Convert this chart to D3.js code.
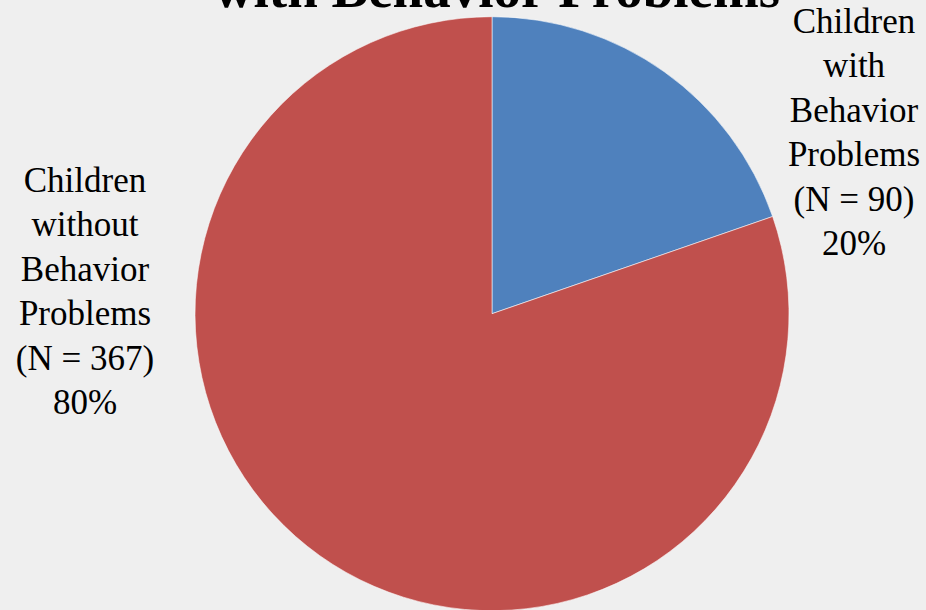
<!DOCTYPE html>
<html>
<head>
<meta charset="utf-8">
<script src="https://cdn.jsdelivr.net/npm/d3@7"></script>
<style>
  html, body { margin: 0; padding: 0; background: #efefef; }
  svg { display: block; }
</style>
</head>
<body>
<svg id="chart" width="926" height="610"></svg>
<script>
const categories = ["Children with Behavior Problems", "Children without Behavior Problems"];
const counts = [90, 367];
const percents = ["20%", "80%"];
const colors = ["#4f81bd", "#c0504d"];
const labelLines = [
  ["Children", "with", "Behavior", "Problems", "(N = 90)", "20%"],
  ["Children", "without", "Behavior", "Problems", "(N = 367)", "80%"]
];
const titleText = "with Behavior Problems";

const svg = d3.select("#chart");
const W = 926, H = 610;

svg.append("rect").attr("width", W).attr("height", H).attr("fill", "#efefef");

const cx = 492, cy = 313.7, r = 297;
const pie = d3.pie().sort(null).value(d => d)(counts);
const arc = d3.arc().innerRadius(0).outerRadius(r);

const g = svg.append("g").attr("transform", `translate(${cx},${cy})`);
g.selectAll("path").data(pie).join("path")
  .attr("d", arc)
  .attr("fill", (d, i) => colors[i])
  .attr("stroke", "rgba(255,255,255,0.55)")
  .attr("stroke-width", 1);

// title (partially cut off at top, as in the reference)
svg.append("text")
  .attr("x", 497).attr("y", 7)
  .attr("text-anchor", "middle")
  .style("font-family", "'Liberation Serif', 'Times New Roman', serif")
  .attr("font-weight", "bold")
  .attr("font-size", 55)
  .attr("fill", "#000")
  .text(titleText);

// labels
const labelPos = [
  { x: 854, y: 33 },
  { x: 85, y: 192 }
];
const lineH = 44.4;
labelLines.forEach((lines, i) => {
  const t = svg.append("text")
    .attr("text-anchor", "middle")
    .style("font-family", "'Liberation Serif', 'Times New Roman', serif")
    .attr("font-size", 35)
    .attr("fill", "#000");
  lines.forEach((ln, j) => {
    t.append("tspan")
      .attr("x", labelPos[i].x)
      .attr("y", labelPos[i].y + j * lineH)
      .text(ln);
  });
});
</script>
</body>
</html>
